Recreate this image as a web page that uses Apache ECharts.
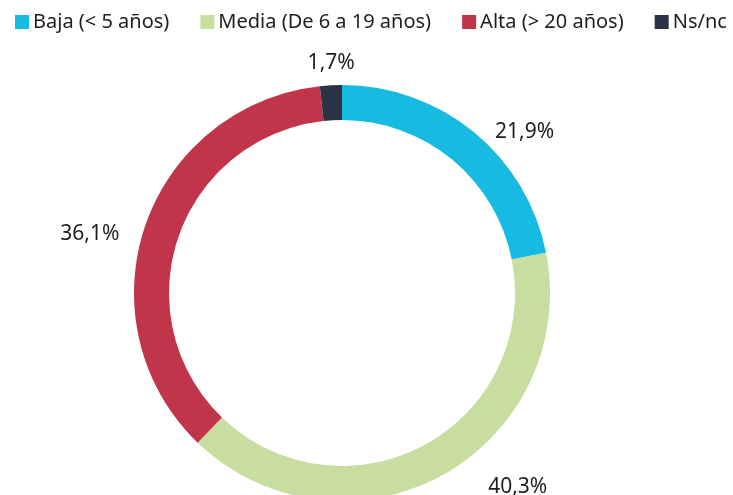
<!DOCTYPE html>
<html>
<head>
<meta charset="utf-8">
<script src="https://cdn.jsdelivr.net/npm/echarts@6/dist/echarts.min.js"></script>
<style>
  html, body { margin: 0; padding: 0; background: #fff; }
  #chart { width: 733px; height: 495px; }
</style>
</head>
<body>
<div id="chart"></div>
<script>
// categorías y porcentajes
const categories = ["Baja (< 5 años)", "Media (De 6 a 19 años)", "Alta (> 20 años)", "Ns/nc"];
const values = [21.9, 40.3, 36.1, 1.7];
const colors = ["#17BAE0", "#C8DEA0", "#C0354A", "#2A3246"];

// pequeños ajustes de las etiquetas (como en el gráfico original)
const labelNudge = [[2, 17], [31, -8], [0, 16], [30, 0]];

const chart = echarts.init(document.getElementById("chart"));

const option = {
  animation: false,
  color: colors,
  textStyle: { fontFamily: "Noto Sans" },
  legend: {
    data: categories,
    left: 10,
    top: 7,
    itemWidth: 14,
    itemHeight: 14,
    itemGap: 31,
    icon: "rect",
    textStyle: { fontSize: 20, color: "#1e1e1e", padding: [0, 0, 0, -1] }
  },
  series: [
    {
      type: "pie",
      center: [342, 293],
      radius: [173, 208],
      startAngle: 90,
      clockwise: true,
      avoidLabelOverlap: false,
      label: {
        show: true,
        position: "outside",
        fontSize: 21,
        color: "#1e1e1e",
        formatter: (p) => p.value.toFixed(1).replace(".", ",") + "%"
      },
      labelLine: { show: false, length: 22, length2: 0 },
      labelLayout: (p) => ({ dx: labelNudge[p.dataIndex][0], dy: labelNudge[p.dataIndex][1] }),
      itemStyle: { borderWidth: 0 },
      data: categories.map((name, i) => ({ name, value: values[i] }))
    }
  ]
};

chart.setOption(option);
</script>
</body>
</html>
